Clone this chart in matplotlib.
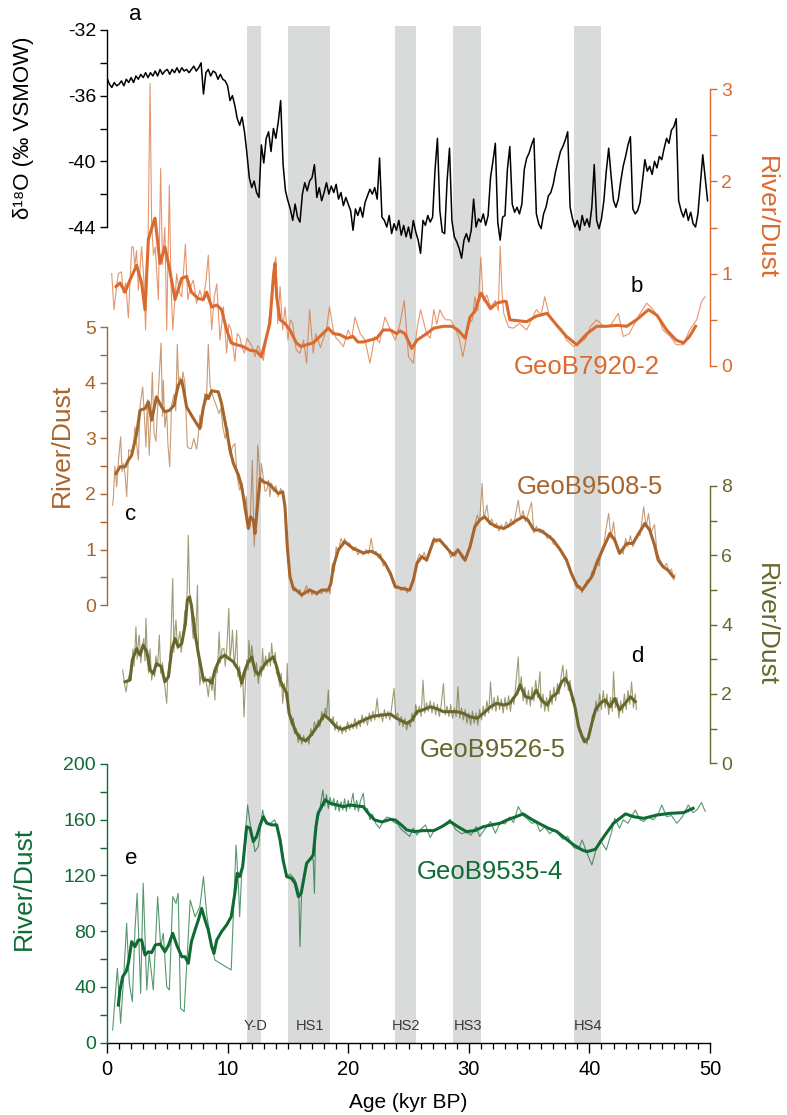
import numpy as np
import matplotlib
matplotlib.use("Agg")
import matplotlib.pyplot as plt
from matplotlib.ticker import MultipleLocator

plt.rcParams['font.family'] = ['Liberation Sans', 'DejaVu Sans']
plt.rcParams['axes.unicode_minus'] = False

# ---------------- data ----------------
# NGRIP-type d18O, 5 values per kyr (ages k, k+.2, ..., k+.8)
d18o_rows = [
    [-34.9, -35.3, -35.5, -35.2, -35.4],
    [-35.3, -35.1, -35.4, -35.0, -35.2],
    [-34.9, -35.2, -34.8, -35.0, -34.7],
    [-34.9, -34.6, -34.9, -34.6, -34.8],
    [-34.5, -34.8, -34.4, -34.7, -34.5],
    [-34.4, -34.7, -34.4, -34.6, -34.3],
    [-34.6, -34.3, -34.5, -34.4, -34.6],
    [-34.4, -34.2, -34.5, -34.3, -34.0],
    [-35.9, -34.6, -34.4, -34.8, -34.5],
    [-34.6, -35.0, -34.7, -35.0, -35.1],
    [-35.4, -36.3, -36.0, -36.6, -37.4],
    [-37.8, -37.3, -38.2, -39.5, -41.0],
    [-41.6, -41.2, -41.9, -42.2, -39.0],
    [-40.1, -38.6, -38.2, -39.4, -38.0],
    [-38.6, -37.6, -36.3, -40.2, -41.8],
    [-42.4, -42.9, -43.6, -42.6, -43.4],
    [-43.7, -42.0, -41.3, -41.8, -41.2],
    [-41.0, -40.2, -42.2, -41.6, -42.4],
    [-41.9, -41.3, -42.0, -41.5, -41.9],
    [-41.4, -42.3, -41.9, -42.7, -42.2],
    [-42.6, -43.0, -44.2, -42.9, -43.3],
    [-42.8, -43.4, -42.5, -42.1, -41.7],
    [-42.0, -41.6, -42.3, -39.8, -43.4],
    [-43.6, -44.0, -43.3, -44.4, -43.8],
    [-44.2, -43.6, -44.5, -43.9, -44.6],
    [-44.0, -44.7, -43.6, -44.3, -44.8],
    [-45.6, -43.6, -43.9, -43.3, -43.7],
    [-43.4, -40.5, -38.6, -43.0, -44.3],
    [-44.4, -41.2, -39.2, -43.6, -44.6],
    [-44.9, -45.3, -45.9, -44.8, -44.4],
    [-44.9, -44.2, -42.3, -44.0, -43.5],
    [-43.7, -43.2, -43.9, -43.3, -41.0],
    [-40.0, -38.9, -43.7, -44.8, -43.4],
    [-43.3, -40.5, -39.1, -42.6, -43.1],
    [-42.8, -43.2, -42.6, -40.5, -39.8],
    [-39.5, -39.0, -38.6, -43.2, -43.8],
    [-44.1, -43.2, -42.8, -42.1, -41.9],
    [-41.4, -40.6, -40.0, -39.4, -39.1],
    [-38.7, -38.2, -42.8, -43.5, -44.0],
    [-43.6, -44.2, -43.3, -43.9, -43.5],
    [-44.0, -42.8, -40.2, -43.6, -44.1],
    [-43.5, -42.4, -40.6, -39.2, -40.9],
    [-42.4, -42.8, -42.3, -41.2, -40.3],
    [-39.7, -39.0, -38.5, -42.9, -43.2],
    [-43.0, -42.5, -41.2, -39.9, -40.6],
    [-40.3, -40.8, -40.0, -40.4, -39.7],
    [-39.9, -39.2, -38.6, -38.9, -38.1],
    [-37.9, -37.4, -42.4, -43.0, -43.4],
    [-42.9, -43.6, -43.1, -43.8, -44.0],
    [-43.2, -41.4, -39.6, -41.0, -42.4],
]

orange_raw = [
    (0.39, 1.00), (0.58, 0.61), (0.80, 0.86), (0.94, 1.00), (1.20, 1.02), (1.35, 0.79),
    (1.55, 0.90), (1.77, 0.52), (2.05, 1.29), (2.18, 1.29), (2.30, 1.08), (2.45, 1.25),
    (2.60, 0.82), (2.87, 1.29), (3.05, 0.95), (3.20, 0.39), (3.40, 1.30), (3.57, 3.06),
    (3.70, 1.55), (3.85, 1.20), (4.00, 1.29), (4.26, 0.72), (4.45, 2.14), (4.60, 1.10),
    (4.67, 1.26), (4.80, 1.50), (4.95, 0.39), (5.17, 1.96), (5.30, 0.90), (5.45, 0.39),
    (5.78, 1.00), (6.00, 0.80), (6.20, 0.75), (6.50, 1.32), (6.70, 0.72), (6.90, 0.85),
    (7.16, 0.93), (7.43, 0.68), (7.70, 0.82), (7.95, 0.70), (8.20, 0.91), (8.40, 1.20),
    (8.68, 0.39), (8.90, 0.75), (9.10, 0.89), (9.37, 0.28), (9.65, 0.64), (9.92, 0.14),
    (10.10, 0.45), (10.30, 0.39), (10.60, 0.05), (10.80, 0.35), (11.00, 0.32), (11.20, 0.20),
    (11.40, 0.14), (11.60, 0.30), (11.86, 0.25), (12.05, 0.20), (12.27, 0.10), (12.50, 0.22),
    (12.69, 0.17), (12.96, 0.06), (13.24, 0.32), (13.57, 0.64), (13.80, 1.04), (14.00, 1.18),
    (14.15, 0.46), (14.35, 0.86), (14.57, 0.39), (14.76, 0.64), (15.00, 0.28), (15.20, 0.50),
    (15.40, 0.46), (15.55, 0.30), (15.70, 0.17), (16.00, 0.14), (16.30, 0.28), (16.55, 0.03),
    (16.80, 0.61), (17.10, 0.14), (17.30, 0.35), (17.50, 0.28), (17.70, 0.20), (17.90, 0.28),
    (18.20, 0.40), (18.45, 0.64), (18.77, 0.39), (19.00, 0.30), (19.18, 0.28), (19.60, 0.21),
    (20.00, 0.39), (20.30, 0.30), (20.56, 0.53), (21.00, 0.35), (21.40, 0.28), (21.80, 0.03),
    (22.20, 0.32), (22.60, 0.25), (23.05, 0.53), (23.50, 0.39), (23.90, 0.28), (24.30, 0.46),
    (24.65, 0.71), (25.00, 0.10), (25.40, 0.03), (25.70, 0.40), (26.00, 0.61), (26.50, 0.35),
    (26.80, 0.30), (27.10, 0.61), (27.35, 0.45), (27.60, 0.61), (27.85, 0.54), (28.10, 0.50),
    (28.50, 0.50), (28.90, 0.40), (29.20, 0.30), (29.50, 0.10), (29.80, 0.30), (30.00, 0.46),
    (30.30, 0.50), (30.50, 0.75), (30.75, 0.60), (31.00, 1.18), (31.20, 0.70), (31.50, 0.77),
    (31.80, 0.64), (32.20, 0.71), (32.45, 0.60), (32.60, 1.30), (32.75, 0.80), (32.90, 0.57),
    (33.30, 0.42), (33.70, 0.41), (34.20, 0.46), (34.80, 0.39), (35.20, 0.50), (35.60, 0.61),
    (36.00, 0.55), (36.30, 0.75), (36.70, 0.53), (37.20, 0.46), (37.70, 0.40), (38.10, 0.28),
    (38.70, 0.21), (39.20, 0.25), (39.70, 0.30), (40.10, 0.43), (40.60, 0.50), (41.20, 0.43),
    (41.70, 0.43), (42.40, 0.57), (42.80, 0.32), (43.30, 0.35), (43.70, 0.45), (44.20, 0.57),
    (44.75, 0.68), (45.30, 0.61), (45.80, 0.50), (46.10, 0.39), (46.70, 0.32), (47.20, 0.23),
    (47.80, 0.23), (48.30, 0.39), (48.90, 0.50), (49.30, 0.70), (49.60, 0.75),
]
orange_smooth = [
    (0.75, 0.86), (1.08, 0.90), (1.5, 0.80), (1.9, 0.93), (2.46, 1.09), (2.87, 0.90),
    (3.15, 0.61), (3.43, 1.37), (3.84, 1.55), (3.98, 1.60), (4.4, 1.11), (4.8, 1.29),
    (5.2, 1.04), (5.64, 0.72), (6.2, 0.95), (6.6, 0.97), (7.0, 0.80), (7.57, 0.73),
    (8.0, 0.72), (8.26, 0.80), (8.68, 0.64), (9.1, 0.66), (9.5, 0.61), (9.92, 0.39),
    (10.3, 0.25), (10.75, 0.23), (11.3, 0.21), (11.86, 0.17), (12.4, 0.16), (12.8, 0.10),
    (13.1, 0.25), (13.5, 0.46), (13.8, 0.97), (13.93, 1.11), (14.07, 0.75), (14.35, 0.50),
    (14.76, 0.46), (15.17, 0.39), (15.7, 0.25), (16.1, 0.21), (16.55, 0.23), (17.1, 0.25),
    (17.66, 0.32), (18.35, 0.41), (18.77, 0.35), (19.3, 0.34), (19.9, 0.30), (20.4, 0.32),
    (20.8, 0.26), (21.25, 0.26), (21.8, 0.28), (22.36, 0.30), (22.9, 0.39), (23.5, 0.39),
    (24.0, 0.35), (24.3, 0.38), (24.7, 0.35), (25.27, 0.19), (25.7, 0.28), (26.5, 0.35),
    (27.1, 0.41), (27.9, 0.43), (28.6, 0.43), (29.1, 0.39), (29.7, 0.30), (30.1, 0.53),
    (30.5, 0.59), (31.0, 0.79), (31.1, 0.77), (31.8, 0.62), (32.3, 0.68), (32.9, 0.70),
    (33.1, 0.70), (33.4, 0.50), (34.8, 0.48), (35.6, 0.54), (36.5, 0.57), (37.3, 0.44),
    (38.1, 0.32), (38.95, 0.23), (39.8, 0.35), (40.6, 0.43), (41.4, 0.43), (42.3, 0.44),
    (43.1, 0.43), (43.9, 0.50), (44.9, 0.61), (45.6, 0.55), (46.4, 0.39), (47.2, 0.28),
    (47.8, 0.25), (48.3, 0.32), (48.8, 0.43),
]

brown_raw = [
    (0.45, 1.80), (0.52, 1.89), (0.65, 2.50), (0.80, 2.13), (0.95, 2.60), (1.13, 3.03),
    (1.25, 2.40), (1.35, 2.55), (1.50, 2.35), (1.63, 1.95), (1.80, 2.80), (2.05, 2.75),
    (2.20, 2.90), (2.32, 3.21), (2.45, 2.90), (2.60, 2.61), (2.75, 3.60), (2.96, 3.93),
    (3.10, 3.40), (3.23, 2.85), (3.35, 3.70), (3.50, 2.70), (3.60, 3.20), (3.76, 4.19),
    (3.90, 3.10), (4.06, 2.95), (4.25, 3.80), (4.48, 4.72), (4.60, 3.40), (4.67, 4.05),
    (4.80, 3.20), (4.95, 3.51), (5.05, 2.90), (5.20, 2.49), (5.35, 3.60), (5.56, 3.80),
    (5.70, 3.50), (5.83, 4.70), (5.95, 3.90), (6.05, 4.11), (6.20, 3.95), (6.30, 4.20),
    (6.47, 3.99), (6.66, 2.85), (6.85, 2.82), (7.00, 2.82), (7.20, 3.00), (7.43, 2.81),
    (7.55, 3.00), (7.70, 3.42), (7.85, 3.20), (8.10, 3.81), (8.25, 3.70), (8.40, 4.70),
    (8.55, 3.95), (8.80, 3.75), (9.05, 3.60), (9.30, 3.45), (9.45, 3.55), (9.60, 3.21),
    (9.80, 3.00), (10.00, 3.20), (10.20, 2.70), (10.40, 2.85), (10.60, 2.91), (10.80, 2.30),
    (11.00, 2.07), (11.20, 2.20), (11.40, 1.70), (11.55, 1.95), (11.70, 1.40), (11.86, 1.41),
    (12.05, 2.61), (12.20, 1.05), (12.35, 1.60), (12.50, 2.88), (12.60, 2.61), (12.70, 2.10),
    (12.80, 2.55), (12.96, 2.30), (13.10, 2.05), (13.24, 2.07), (13.40, 2.25), (13.50, 1.95),
    (13.65, 2.20), (13.80, 2.05), (14.00, 2.15), (14.20, 1.95), (14.40, 2.10), (14.57, 2.00),
    (14.70, 1.85), (14.85, 1.40), (15.00, 0.95), (15.17, 0.55), (15.30, 0.40), (15.45, 0.25),
    (15.60, 0.32), (15.87, 0.20), (16.00, 0.28), (16.14, 0.14), (16.30, 0.22), (16.55, 0.35),
    (16.70, 0.20), (16.80, 0.30), (17.00, 0.18), (17.20, 0.25), (17.40, 0.17), (17.60, 0.26),
    (17.80, 0.20), (18.00, 0.28), (18.20, 0.22), (18.35, 0.30), (18.50, 0.20), (18.57, 0.45),
    (18.70, 0.75), (18.85, 0.60), (19.00, 1.05), (19.18, 0.95), (19.40, 1.20), (19.60, 1.10),
    (19.70, 1.20), (19.90, 1.10), (20.10, 1.12), (20.40, 0.98), (20.60, 1.05), (20.80, 0.90),
    (21.00, 0.98), (21.25, 0.90), (21.50, 1.00), (21.70, 0.92), (21.90, 1.20), (22.10, 0.95),
    (22.30, 0.97), (22.50, 0.85), (22.70, 0.92), (22.90, 0.70), (23.05, 0.78), (23.30, 0.62),
    (23.50, 0.52), (23.70, 0.40), (23.90, 0.30), (24.10, 0.35), (24.40, 0.26), (24.70, 0.33),
    (24.90, 0.22), (25.10, 0.30), (25.30, 0.40), (25.50, 0.55), (25.70, 0.80), (25.90, 0.92),
    (26.10, 0.85), (26.30, 0.95), (26.50, 0.78), (26.70, 0.90), (26.90, 1.05), (27.10, 1.22),
    (27.30, 1.12), (27.60, 1.20), (27.90, 1.10), (28.20, 1.05), (28.50, 0.85), (28.70, 0.95),
    (28.90, 0.88), (29.10, 1.02), (29.40, 0.85), (29.70, 0.78), (29.90, 0.95), (30.10, 1.10),
    (30.30, 1.25), (30.50, 1.45), (30.70, 1.62), (30.90, 1.50), (31.10, 2.19), (31.25, 1.55),
    (31.50, 1.80), (31.70, 1.45), (31.90, 1.55), (32.10, 1.40), (32.30, 1.48), (32.50, 1.33),
    (32.70, 1.45), (32.90, 1.35), (33.10, 1.50), (33.30, 1.40), (33.50, 1.55), (33.70, 1.45),
    (33.90, 1.65), (34.10, 1.89), (34.30, 1.55), (34.50, 1.70), (34.70, 1.50), (34.90, 1.62),
    (35.20, 1.85), (35.40, 1.30), (35.60, 1.42), (35.90, 1.30), (36.20, 1.35), (36.50, 1.20),
    (36.80, 1.25), (37.00, 1.10), (37.30, 1.08), (37.60, 1.00), (37.90, 0.88), (38.10, 0.85),
    (38.40, 0.62), (38.70, 0.48), (38.95, 0.30), (39.20, 0.35), (39.40, 0.22), (39.60, 0.35),
    (39.80, 0.45), (40.00, 0.42), (40.20, 0.60), (40.40, 0.55), (40.60, 0.82), (40.80, 0.70),
    (41.00, 1.00), (41.20, 1.10), (41.40, 1.40), (41.60, 1.65), (41.80, 1.20), (42.00, 1.50),
    (42.20, 1.10), (42.40, 0.95), (42.60, 1.00), (42.80, 0.92), (43.00, 1.20), (43.20, 1.05),
    (43.40, 1.25), (43.60, 1.05), (43.80, 1.15), (44.00, 1.30), (44.20, 1.25), (44.50, 1.77),
    (44.70, 1.40), (44.90, 1.65), (45.10, 1.30), (45.40, 1.45), (45.60, 0.95), (45.80, 0.85),
    (46.00, 0.75), (46.20, 0.68), (46.40, 0.75), (46.60, 0.60), (46.80, 0.65), (47.00, 0.45),
    (47.10, 0.55),
]
brown_smooth = [
    (0.75, 2.37), (1.08, 2.49), (1.5, 2.49), (1.77, 2.61), (2.05, 2.70), (2.46, 3.09),
    (2.74, 3.51), (3.15, 3.54), (3.43, 3.66), (3.7, 3.33), (4.1, 3.75), (4.53, 3.57),
    (4.8, 3.48), (5.2, 3.51), (5.56, 3.60), (5.9, 3.96), (6.2, 4.05), (6.33, 3.90),
    (6.6, 3.57), (7.0, 3.42), (7.43, 3.27), (7.7, 3.18), (8.0, 3.57), (8.26, 3.78),
    (8.4, 3.72), (8.68, 3.86), (9.23, 3.84), (9.5, 3.63), (9.92, 3.15), (10.2, 2.79),
    (10.48, 2.55), (10.9, 2.34), (11.17, 2.13), (11.44, 1.77), (11.72, 1.38), (11.9, 1.59),
    (12.13, 1.53), (12.27, 1.29), (12.47, 1.77), (12.7, 2.28), (12.96, 2.22), (13.38, 2.19),
    (13.8, 2.10), (14.2, 2.01), (14.57, 2.04), (14.76, 1.77), (14.95, 1.05), (15.17, 0.51),
    (15.45, 0.30), (15.87, 0.24), (16.14, 0.18), (16.55, 0.24), (16.8, 0.27), (17.4, 0.21),
    (17.8, 0.27), (18.35, 0.27), (18.57, 0.39), (18.77, 0.69), (19.18, 0.99), (19.7, 1.14),
    (20.4, 1.02), (21.25, 0.94), (21.9, 0.97), (22.5, 0.90), (23.05, 0.75), (23.5, 0.57),
    (23.9, 0.33), (24.4, 0.30), (25.1, 0.27), (25.4, 0.45), (25.7, 0.75), (26.1, 0.87),
    (26.5, 0.81), (27.1, 1.17), (27.6, 1.17), (28.2, 1.02), (28.7, 0.90), (29.1, 0.99),
    (29.7, 0.81), (30.1, 1.05), (30.5, 1.41), (30.9, 1.53), (31.3, 1.59), (31.8, 1.47),
    (32.3, 1.41), (32.9, 1.38), (33.4, 1.44), (34.0, 1.53), (34.5, 1.59), (34.9, 1.53),
    (35.4, 1.35), (35.9, 1.35), (36.5, 1.26), (37.0, 1.17), (37.6, 0.99), (38.1, 0.81),
    (38.5, 0.57), (38.95, 0.36), (39.4, 0.27), (39.8, 0.39), (40.2, 0.51), (40.6, 0.75),
    (41.2, 1.05), (41.7, 1.29), (42.1, 1.17), (42.5, 0.93), (43.1, 1.11), (43.6, 1.11),
    (44.1, 1.29), (44.6, 1.47), (45.0, 1.35), (45.4, 1.08), (45.7, 0.81), (46.1, 0.69),
    (46.5, 0.63), (46.95, 0.51),
]

olive_raw = [
    (1.30, 2.69), (1.45, 2.30), (1.58, 2.06), (1.70, 2.35), (1.85, 2.55), (2.00, 2.40),
    (2.15, 3.30), (2.25, 2.80), (2.40, 3.94), (2.50, 3.00), (2.60, 3.50), (2.68, 3.70),
    (2.80, 2.90), (2.90, 3.30), (3.05, 3.60), (3.15, 2.95), (3.23, 4.18), (3.35, 3.00),
    (3.45, 2.60), (3.57, 3.30), (3.70, 2.40), (3.84, 2.70), (3.95, 2.50), (4.05, 3.10),
    (4.20, 2.80), (4.34, 3.70), (4.45, 2.60), (4.60, 2.90), (4.70, 2.50), (4.80, 2.20),
    (4.95, 1.73), (5.05, 2.60), (5.20, 3.00), (5.30, 3.60), (5.45, 5.33), (5.55, 3.20),
    (5.65, 3.90), (5.72, 4.13), (5.85, 3.30), (5.95, 3.60), (6.05, 3.80), (6.15, 3.20),
    (6.30, 3.60), (6.45, 4.40), (6.55, 4.20), (6.65, 5.00), (6.74, 6.58), (6.85, 4.90),
    (6.94, 4.80), (7.05, 4.00), (7.15, 3.60), (7.25, 4.20), (7.35, 3.50), (7.50, 5.14),
    (7.60, 3.00), (7.70, 2.26), (7.85, 2.70), (8.00, 2.30), (8.15, 2.50), (8.30, 2.20),
    (8.40, 1.92), (8.55, 2.50), (8.70, 2.10), (8.82, 2.45), (8.95, 1.83), (9.05, 2.80),
    (9.15, 2.60), (9.30, 3.79), (9.40, 2.90), (9.55, 3.30), (9.70, 3.31), (9.80, 2.80),
    (9.95, 3.40), (10.10, 4.47), (10.20, 3.00), (10.30, 3.30), (10.40, 3.84), (10.55, 2.80),
    (10.65, 3.20), (10.75, 3.84), (10.85, 2.50), (11.00, 2.80), (11.10, 2.20), (11.25, 2.60),
    (11.36, 1.34), (11.50, 2.50), (11.60, 3.00), (11.70, 2.70), (11.77, 3.55), (11.90, 2.90),
    (12.00, 3.40), (12.13, 3.03), (12.25, 2.50), (12.40, 2.90), (12.55, 2.30), (12.70, 2.80),
    (12.80, 2.50), (12.90, 3.31), (13.00, 2.70), (13.15, 3.10), (13.30, 2.80), (13.45, 3.20),
    (13.55, 2.80), (13.65, 3.46), (13.80, 2.90), (13.95, 3.20), (14.05, 2.60), (14.20, 2.50),
    (14.35, 2.20), (14.45, 2.60), (14.57, 1.73), (14.70, 2.30), (14.85, 1.90), (14.95, 2.88),
    (15.05, 1.60), (15.15, 1.30), (15.30, 1.10), (15.45, 1.30), (15.55, 0.85), (15.70, 1.00),
    (15.85, 0.60), (16.00, 0.85), (16.15, 0.55), (16.30, 0.80), (16.45, 0.60), (16.60, 0.75),
    (16.75, 0.55), (16.90, 1.00), (17.05, 0.80), (17.20, 1.20), (17.35, 1.00), (17.50, 1.25),
    (17.65, 1.05), (17.80, 1.50), (17.95, 1.25), (18.10, 1.60), (18.20, 1.30), (18.35, 2.11),
    (18.45, 1.30), (18.60, 1.15), (18.75, 1.35), (18.90, 0.95), (19.05, 1.20), (19.20, 0.90),
    (19.35, 1.10), (19.50, 0.85), (19.65, 1.05), (19.80, 0.90), (19.95, 1.20), (20.10, 0.95),
    (20.25, 1.15), (20.40, 1.00), (20.55, 1.30), (20.70, 1.00), (20.85, 1.25), (21.00, 1.05),
    (21.15, 1.40), (21.30, 1.15), (21.45, 1.35), (21.60, 1.10), (21.75, 1.45), (21.90, 1.20),
    (22.05, 1.50), (22.20, 1.25), (22.40, 1.87), (22.55, 1.30), (22.70, 1.45), (22.85, 1.20),
    (23.00, 1.55), (23.15, 1.30), (23.30, 1.50), (23.45, 1.25), (23.60, 1.60), (23.80, 2.16),
    (23.95, 1.30), (24.10, 1.45), (24.25, 1.10), (24.40, 1.35), (24.55, 1.05), (24.70, 1.30),
    (24.85, 0.96), (25.00, 1.20), (25.15, 1.05), (25.30, 1.45), (25.45, 1.20), (25.60, 1.70),
    (25.75, 1.40), (25.90, 1.65), (26.05, 1.35), (26.20, 2.40), (26.35, 1.45), (26.50, 1.75),
    (26.65, 1.50), (26.80, 1.80), (26.95, 1.45), (27.10, 1.75), (27.25, 1.40), (27.40, 1.70),
    (27.55, 1.35), (27.70, 1.65), (27.90, 2.30), (28.05, 1.40), (28.20, 1.65), (28.35, 1.35),
    (28.50, 1.70), (28.65, 1.30), (28.80, 1.60), (28.95, 1.35), (29.10, 2.21), (29.25, 1.30),
    (29.40, 1.60), (29.55, 1.25), (29.70, 1.55), (29.85, 1.15), (30.00, 1.45), (30.15, 1.10),
    (30.30, 1.50), (30.45, 1.15), (30.60, 1.45), (30.75, 1.10), (30.90, 1.55), (31.05, 1.25),
    (31.20, 1.65), (31.35, 1.35), (31.50, 1.80), (31.65, 1.45), (31.80, 2.35), (31.95, 1.55),
    (32.10, 1.90), (32.25, 1.50), (32.40, 1.95), (32.55, 1.55), (32.70, 1.85), (32.85, 1.45),
    (33.00, 1.90), (33.15, 1.55), (33.30, 1.95), (33.45, 1.50), (33.60, 1.90), (33.75, 1.70),
    (33.90, 2.30), (34.10, 3.07), (34.20, 2.10), (34.35, 2.50), (34.50, 1.80), (34.65, 2.20),
    (34.80, 1.70), (34.95, 2.10), (35.10, 1.65), (35.25, 2.20), (35.40, 1.80), (35.55, 2.40),
    (35.70, 1.90), (35.90, 2.64), (36.00, 1.60), (36.15, 2.00), (36.30, 1.50), (36.45, 1.90),
    (36.60, 1.50), (36.75, 2.10), (36.90, 1.70), (37.05, 2.20), (37.20, 1.80), (37.35, 2.30),
    (37.50, 2.00), (37.65, 2.50), (37.80, 2.83), (37.95, 2.20), (38.10, 2.70), (38.25, 2.10),
    (38.40, 2.40), (38.55, 1.80), (38.70, 1.90), (38.85, 1.40), (39.00, 1.30), (39.15, 0.90),
    (39.30, 0.95), (39.45, 0.65), (39.60, 0.75), (39.80, 0.55), (39.95, 0.90), (40.10, 0.95),
    (40.25, 1.40), (40.40, 1.30), (40.55, 1.80), (40.70, 1.50), (40.85, 2.00), (41.00, 1.55),
    (41.15, 2.10), (41.30, 1.60), (41.45, 2.00), (41.60, 1.40), (41.75, 1.90), (41.90, 1.50),
    (42.00, 2.64), (42.15, 1.60), (42.30, 1.90), (42.45, 1.30), (42.60, 1.80), (42.75, 1.45),
    (42.90, 2.00), (43.05, 1.55), (43.20, 2.10), (43.35, 1.70), (43.50, 2.35), (43.65, 1.60),
    (43.80, 2.00), (43.90, 1.55),
]
olive_smooth = [
    (1.5, 2.35), (1.9, 2.40), (2.1, 2.98), (2.46, 3.31), (2.74, 3.12), (3.0, 3.41),
    (3.3, 3.22), (3.57, 2.69), (3.84, 2.59), (4.1, 2.88), (4.5, 2.79), (4.8, 2.35),
    (5.1, 2.50), (5.36, 3.27), (5.64, 3.60), (5.9, 3.36), (6.2, 3.46), (6.5, 4.03),
    (6.66, 4.71), (6.83, 4.80), (7.0, 4.56), (7.3, 3.75), (7.57, 3.17), (8.0, 2.40),
    (8.4, 2.40), (8.68, 2.31), (8.95, 2.69), (9.37, 3.03), (9.78, 3.12), (10.06, 3.03),
    (10.48, 2.93), (10.9, 2.69), (11.17, 2.31), (11.44, 2.69), (11.72, 2.93), (12.0, 3.07),
    (12.27, 2.69), (12.55, 2.55), (12.96, 2.79), (13.24, 2.93), (13.5, 2.98), (13.8, 3.07),
    (14.07, 2.79), (14.35, 2.40), (14.6, 2.21), (14.9, 2.02), (15.1, 1.44), (15.3, 1.25),
    (15.6, 0.95), (16.0, 0.72), (16.5, 0.65), (17.0, 0.85), (17.5, 1.10), (18.0, 1.40),
    (18.5, 1.25), (19.0, 1.05), (19.5, 0.98), (20.0, 1.05), (20.5, 1.10), (21.0, 1.20),
    (21.5, 1.28), (22.0, 1.35), (22.5, 1.38), (23.0, 1.40), (23.5, 1.42), (24.0, 1.30),
    (24.3, 1.25), (24.85, 1.15), (25.3, 1.25), (25.7, 1.49), (26.2, 1.54), (26.8, 1.63),
    (27.3, 1.58), (27.9, 1.49), (28.45, 1.49), (29.0, 1.49), (29.55, 1.44), (30.1, 1.34),
    (30.7, 1.30), (31.2, 1.44), (31.8, 1.63), (32.3, 1.73), (32.9, 1.68), (33.4, 1.73),
    (34.0, 2.02), (34.25, 2.26), (34.7, 1.92), (35.2, 1.87), (35.6, 2.11), (36.0, 1.83),
    (36.5, 1.68), (36.9, 1.92), (37.3, 2.02), (37.7, 2.35), (38.0, 2.45), (38.3, 2.26),
    (38.5, 2.02), (38.8, 1.63), (39.1, 1.06), (39.4, 0.77), (39.6, 0.62), (39.9, 0.72),
    (40.2, 1.15), (40.5, 1.54), (40.9, 1.73), (41.3, 1.83), (41.7, 1.63), (42.1, 1.87),
    (42.5, 1.54), (42.96, 1.73), (43.4, 1.92), (43.8, 1.78),
]

green_raw = [
    (0.47, 9.1), (0.86, 53.4), (1.13, 13.9), (1.40, 49.8), (1.63, 85.7), (1.85, 42.6),
    (2.10, 29.4), (2.32, 80.9), (2.50, 107.2), (2.68, 64.1), (2.79, 35.4), (3.00, 114.4),
    (3.30, 37.8), (3.50, 64.1), (3.84, 37.8), (4.20, 104.8), (4.45, 69.0), (4.67, 78.5),
    (4.95, 40.2), (5.17, 37.8), (5.45, 104.8), (5.72, 100.0), (5.90, 107.2), (6.10, 24.6),
    (6.40, 22.3), (6.90, 102.4), (7.30, 90.4), (7.70, 97.6), (8.00, 119.2), (8.26, 92.8),
    (8.68, 68.9), (8.95, 59.3), (10.30, 52.2), (10.70, 141.9), (10.90, 112.0), (11.00, 90.4),
    (11.17, 121.6), (11.36, 138.3), (11.66, 170.6), (11.85, 158.0), (12.00, 151.5), (12.27, 137.1),
    (12.55, 140.7), (12.90, 167.0), (13.10, 160.0), (13.24, 158.7), (13.50, 157.0), (13.90, 159.9),
    (14.10, 155.0), (14.40, 146.0), (14.70, 128.0), (14.90, 119.2), (15.20, 121.0), (15.60, 116.8),
    (15.90, 108.4), (16.00, 68.9), (16.14, 108.4), (16.40, 122.0), (16.70, 131.0), (16.90, 133.0),
    (17.10, 131.1), (17.20, 107.2), (17.30, 150.0), (17.40, 157.5), (17.60, 165.0), (17.90, 181.4),
    (18.05, 170.0), (18.20, 178.0), (18.35, 168.0), (18.50, 176.0), (18.65, 170.0), (18.80, 175.4),
    (18.95, 167.0), (19.10, 174.0), (19.25, 166.0), (19.40, 173.0), (19.55, 167.0), (19.70, 175.0),
    (19.85, 166.0), (20.00, 174.0), (20.15, 168.0), (20.40, 179.0), (20.55, 167.0), (20.70, 174.0),
    (20.85, 166.0), (21.00, 173.0), (21.25, 179.0), (21.40, 167.0), (21.60, 168.0), (21.80, 160.0),
    (22.00, 164.0), (22.30, 157.0), (22.60, 153.9), (22.90, 159.0), (23.20, 162.0), (23.50, 161.0),
    (23.80, 158.0), (24.10, 157.0), (24.40, 153.0), (24.80, 150.3), (25.10, 148.0), (25.40, 154.0),
    (25.70, 149.0), (26.00, 153.0), (26.40, 156.3), (26.80, 147.2), (27.10, 152.0), (27.50, 154.0),
    (27.90, 156.0), (28.45, 160.3), (28.90, 153.0), (29.40, 150.0), (29.80, 151.0), (30.20, 149.0),
    (30.60, 155.0), (30.90, 148.0), (31.30, 153.0), (31.80, 158.7), (32.20, 150.3), (32.60, 158.0),
    (33.00, 157.0), (33.40, 162.0), (33.70, 158.0), (34.10, 169.4), (34.50, 163.0), (34.80, 161.0),
    (35.20, 157.5), (35.60, 158.0), (35.90, 151.5), (36.30, 155.0), (36.70, 150.0), (37.10, 153.0),
    (37.50, 149.0), (37.80, 146.0), (38.20, 148.0), (38.70, 140.0), (39.10, 139.0), (39.40, 145.5),
    (39.80, 136.0), (40.20, 127.5), (40.60, 140.0), (40.90, 145.5), (41.40, 138.3), (41.80, 150.0),
    (42.10, 161.0), (42.50, 153.9), (42.80, 160.0), (43.20, 157.5), (43.80, 167.0), (44.20, 160.0),
    (44.50, 158.7), (44.90, 162.0), (45.30, 159.9), (45.70, 164.0), (46.00, 170.6), (46.40, 162.2),
    (46.80, 163.0), (47.25, 157.5), (47.70, 162.0), (48.20, 170.6), (48.60, 165.0), (48.90, 167.0),
    (49.30, 172.3), (49.60, 166.0),
]
green_smooth = [
    (0.94, 27.0), (1.08, 37.8), (1.30, 47.4), (1.58, 51.0), (1.77, 57.0), (2.05, 72.5),
    (2.32, 68.9), (2.60, 73.7), (2.87, 73.7), (3.15, 62.9), (3.43, 65.3), (3.70, 64.6),
    (4.00, 70.1), (4.40, 70.8), (4.80, 65.3), (5.10, 70.0), (5.45, 78.5), (5.78, 70.1),
    (6.20, 61.7), (6.47, 61.7), (6.74, 57.0), (7.00, 72.5), (7.30, 80.9), (7.57, 88.0),
    (7.85, 96.4), (8.13, 88.0), (8.40, 80.9), (8.68, 68.9), (8.87, 64.1), (9.10, 73.7),
    (9.50, 79.7), (9.92, 84.5), (10.30, 90.4), (10.60, 107.2), (10.80, 121.6), (11.00, 119.2),
    (11.25, 126.3), (11.58, 155.0), (11.86, 153.9), (12.13, 144.3), (12.40, 147.9), (12.70, 156.3),
    (12.96, 162.2), (13.24, 157.5), (13.65, 156.3), (14.07, 156.3), (14.35, 145.5), (14.60, 131.1),
    (14.90, 119.2), (15.30, 118.0), (15.60, 114.4), (15.87, 104.8), (16.10, 107.2), (16.30, 116.8),
    (16.55, 128.7), (16.90, 132.3), (17.10, 134.7), (17.33, 155.1), (17.50, 164.6), (17.80, 169.4),
    (18.07, 174.2), (18.50, 171.8), (19.04, 170.6), (19.60, 169.4), (20.15, 170.6), (20.70, 169.9),
    (21.25, 169.4), (21.67, 164.6), (22.20, 159.8), (22.80, 158.4), (23.50, 160.3), (23.90, 159.8),
    (24.40, 156.3), (24.85, 152.7), (25.50, 151.5), (26.20, 152.2), (27.10, 152.2), (27.75, 155.0),
    (28.45, 158.7), (29.10, 155.0), (29.80, 151.5), (30.50, 152.2), (31.20, 155.0), (31.90, 156.3),
    (32.60, 157.5), (33.30, 160.3), (33.80, 161.8), (34.50, 164.2), (35.20, 160.3), (35.90, 157.0),
    (36.60, 153.9), (37.30, 151.5), (38.00, 146.7), (38.70, 141.9), (39.40, 138.3), (39.80, 137.1),
    (40.50, 138.8), (41.20, 147.9), (42.00, 157.5), (43.00, 164.2), (43.65, 162.2), (44.50, 161.0),
    (45.60, 163.4), (46.70, 164.6), (47.80, 165.1), (48.60, 168.2),
]

bands = [(11.6, 12.8), (15.0, 18.5), (23.85, 25.6), (28.7, 31.0), (38.7, 41.0)]
band_labels = ["Y-D", "HS1", "HS2", "HS3", "HS4"]
band_label_x = [12.3, 16.8, 24.8, 29.9, 39.9]

# ---------------- layout ----------------
C_ORANGE = '#DB6A2F'
C_BROWN = '#A8652B'
C_OLIVE = '#67672C'
C_GREEN = '#0F6B33'

W, H = 787, 1115
fig = plt.figure(figsize=(W / 100, H / 100), dpi=100)
X0, X1 = 107, 710


def add_panel(top, bot):
    ax = fig.add_axes([X0 / W, 1 - bot / H, (X1 - X0) / W, (bot - top) / H])
    ax.patch.set_alpha(0)
    for s in ax.spines.values():
        s.set_visible(False)
    ax.set_xlim(0, 50)
    ax.set_xticks([])
    return ax


def calib(ax, va, pa, vb, pb, top, bot):
    s = (pb - pa) / (va - vb)
    ax.set_ylim(va - (bot - pa) / s, va + (pa - top) / s)


def style_y(ax, side, color, major, minor, lo, hi):
    sp = ax.spines[side]
    sp.set_visible(True)
    sp.set_color(color)
    sp.set_linewidth(1.0)
    sp.set_bounds(lo, hi)
    if side == 'right':
        ax.yaxis.tick_right()
    else:
        ax.yaxis.tick_left()
    ax.set_yticks(major)
    ax.set_yticks(minor, minor=True)
    ax.tick_params(axis='y', which='both', direction='out', color=color,
                   labelcolor=color, length=5, width=1.0, labelsize=14, pad=3)


def ftext(x, y, s, **kw):
    fig.text(x / W, 1 - y / H, s, **kw)


def split(pairs):
    a = np.array(pairs, dtype=float)
    return a[:, 0], a[:, 1]


# base axes: bands + time axis
base = add_panel(26, 1042.7)
base.set_ylim(0, 1)
base.set_yticks([])
for (a, b) in bands:
    base.axvspan(a, b, color='#D9DBDB', lw=0, zorder=0)
base.spines['bottom'].set_visible(True)
base.spines['bottom'].set_linewidth(1.0)
base.xaxis.set_major_locator(MultipleLocator(10))
base.xaxis.set_minor_locator(MultipleLocator(1))
base.tick_params(axis='x', which='major', direction='out', length=7.5, width=1.0,
                 labelsize=14.5, pad=5)
base.tick_params(axis='x', which='minor', direction='out', length=4, width=0.9)
for lx, lab in zip(band_label_x, band_labels):
    base.text(lx, 0.0165, lab, transform=base.get_xaxis_transform(), ha='center',
              va='center', fontsize=10.5, color='#3a3a3a')

# panel a
axa = add_panel(20, 262)
calib(axa, -32, 30, -44, 227, 20, 262)
d18o = np.array(d18o_rows).ravel()
ages = np.arange(len(d18o)) * 0.2
axa.plot(ages, d18o, color='black', lw=1.1)
style_y(axa, 'left', 'black', [-44, -40, -36, -32], [-42, -38, -34], -44, -32)

# panel b
axb = add_panel(80, 372)
calib(axb, 3, 89, 0, 366, 80, 372)
x, y = split(orange_raw)
axb.plot(x, y, color=C_ORANGE, lw=0.8, alpha=0.7)
x, y = split(orange_smooth)
axb.plot(x, y, color=C_ORANGE, lw=2.2)
style_y(axb, 'right', C_ORANGE, [0, 1, 2, 3], [0.5, 1.5, 2.5], 0, 3)

# panel c
axc = add_panel(320, 612)
calib(axc, 5, 327.5, 0, 605, 320, 612)
x, y = split(brown_raw)
axc.plot(x, y, color=C_BROWN, lw=0.8, alpha=0.65)
x, y = split(brown_smooth)
axc.plot(x, y, color=C_BROWN, lw=2.2)
style_y(axc, 'left', C_BROWN, [0, 1, 2, 3, 4, 5], [0.5, 1.5, 2.5, 3.5, 4.5], 0, 5)

# panel d
axd = add_panel(480, 770)
calib(axd, 8, 486, 0, 763.3, 480, 770)
x, y = split(olive_raw)
axd.plot(x, y, color=C_OLIVE, lw=0.8, alpha=0.65)
x, y = split(olive_smooth)
axd.plot(x, y, color=C_OLIVE, lw=2.2)
style_y(axd, 'right', C_OLIVE, [0, 2, 4, 6, 8], [1, 3, 5, 7], 0, 8)

# panel e
axe = add_panel(758, 1045)
calib(axe, 200, 764, 0, 1042.7, 758, 1045)
x, y = split(green_raw)
axe.plot(x, y, color=C_GREEN, lw=0.8, alpha=0.7)
x, y = split(green_smooth)
axe.plot(x, y, color=C_GREEN, lw=2.2)
style_y(axe, 'left', C_GREEN, [0, 40, 80, 120, 160, 200], [20, 60, 100, 140, 180], 0, 200)

# texts
ftext(135, 14, 'a', fontsize=16, ha='center', va='center')
ftext(637, 287, 'b', fontsize=16, ha='center', va='center')
ftext(131, 515, 'c', fontsize=16, ha='center', va='center')
ftext(637, 656, 'd', fontsize=16, ha='center', va='center')
ftext(131, 858, 'e', fontsize=16, ha='center', va='center')

ftext(587, 367, 'GeoB7920-2', fontsize=18.5, color=C_ORANGE, ha='center', va='center')
ftext(590, 487, 'GeoB9508-5', fontsize=18.5, color=C_BROWN, ha='center', va='center')
ftext(493, 750, 'GeoB9526-5', fontsize=18.5, color=C_OLIVE, ha='center', va='center')
ftext(490, 872, 'GeoB9535-4', fontsize=18.5, color=C_GREEN, ha='center', va='center')

ftext(24, 128, 'δ¹⁸O (‰ VSMOW)', fontsize=16, rotation=90, ha='center', va='center')
ftext(766, 218, 'River/Dust', fontsize=19, rotation=270, color=C_ORANGE, ha='center', va='center')
ftext(62, 445, 'River/Dust', fontsize=19, rotation=90, color=C_BROWN, ha='center', va='center')
ftext(766, 625, 'River/Dust', fontsize=19, rotation=270, color=C_OLIVE, ha='center', va='center')
ftext(24, 888, 'River/Dust', fontsize=19, rotation=90, color=C_GREEN, ha='center', va='center')
ftext(408, 1102, 'Age (kyr BP)', fontsize=15, ha='center', va='center')

fig.savefig('out.png', dpi=100)
